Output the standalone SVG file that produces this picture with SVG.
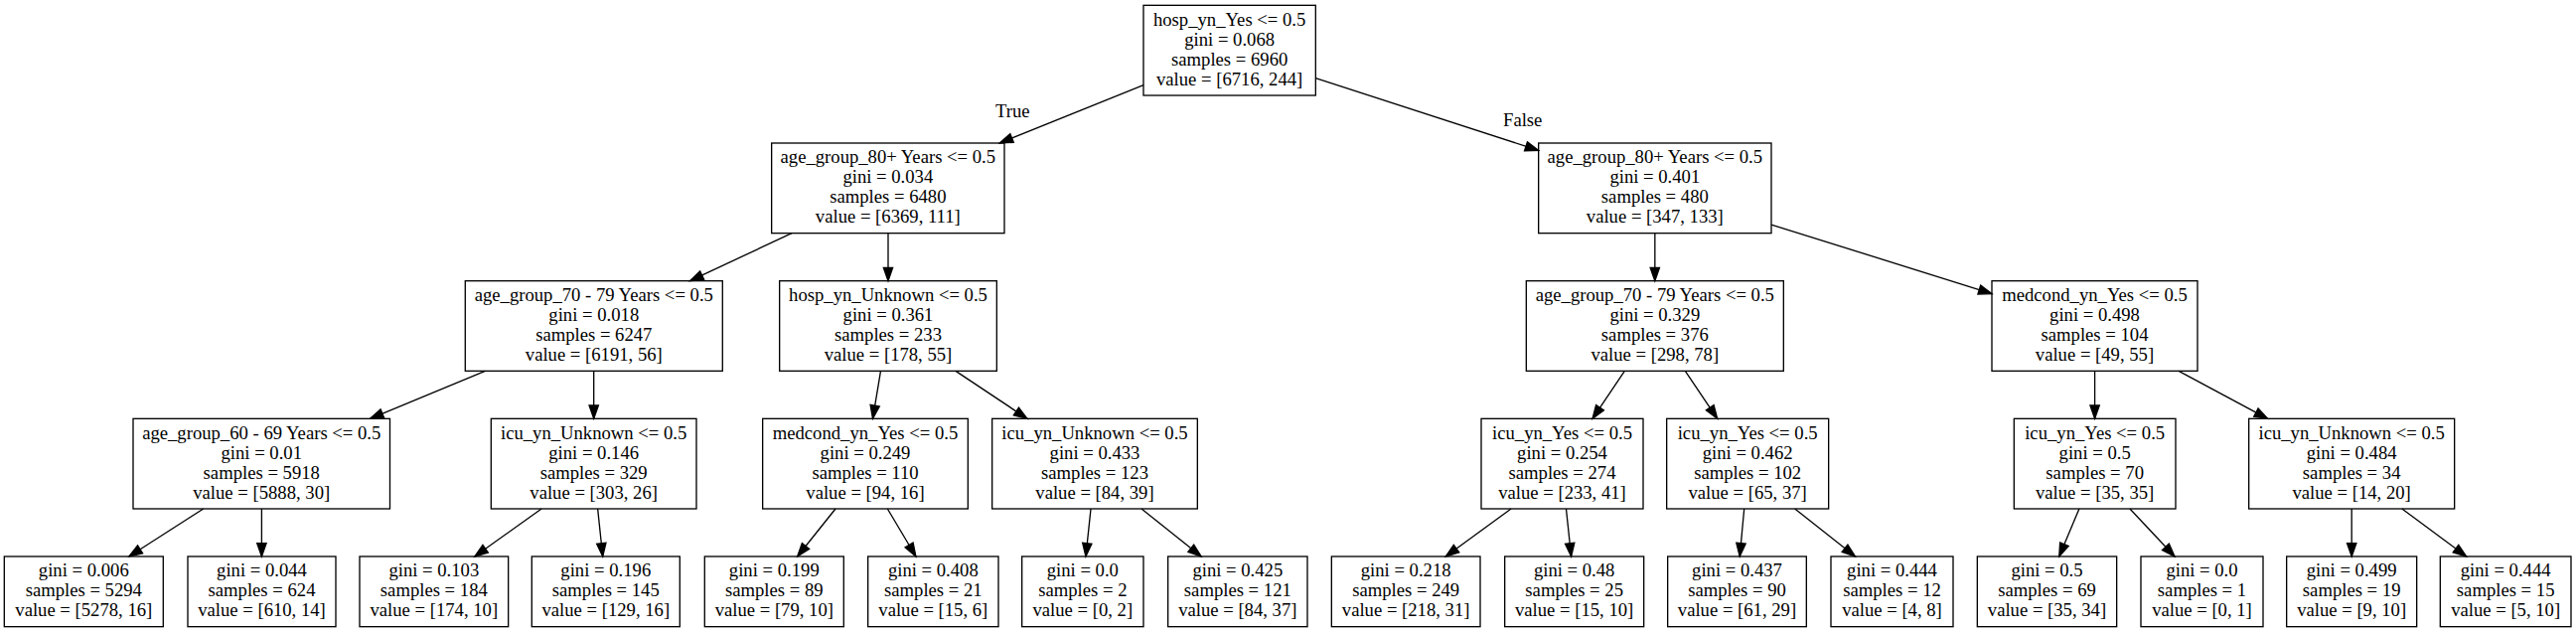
<svg xmlns="http://www.w3.org/2000/svg" width="2593" height="636" viewBox="0 0 2593 636">
<style>
.node rect{fill:none;stroke:#000;stroke-width:1.33}
text{font-family:"Liberation Serif","Times New Roman",serif;font-size:18.67px;text-anchor:middle;fill:#000}
.edges line{stroke:#000;stroke-width:1.33;marker-end:url(#arr)}
</style>
<defs>
<marker id="arr" markerUnits="userSpaceOnUse" markerWidth="16" markerHeight="12" viewBox="-1 -6 16 12" refX="13.33" refY="0" orient="auto" overflow="visible">
<path d="M0,-4.67 L13.33,0 L0,4.67 Z" fill="#000" stroke="#000" stroke-width="1.33"/>
</marker>
</defs>
<rect x="0" y="0" width="2593" height="636" fill="#fff"/>
<g class="edges" id="edges">
<line x1="1151" y1="85.63" x2="1006.23" y2="144"/>
<line x1="1324.33" y1="78.74" x2="1548.67" y2="151.38"/>
<line x1="797.05" y1="234.67" x2="694.58" y2="282.67"/>
<line x1="894" y1="234.67" x2="894" y2="282.67"/>
<line x1="488.41" y1="373.33" x2="372.56" y2="421.33"/>
<line x1="597.7" y1="373.33" x2="597.7" y2="421.33"/>
<line x1="204.7" y1="512" x2="129.88" y2="560"/>
<line x1="263.4" y1="512" x2="263.4" y2="560"/>
<line x1="545.09" y1="512" x2="477.81" y2="560"/>
<line x1="601.64" y1="512" x2="606.71" y2="560"/>
<line x1="886.48" y1="373.33" x2="878.52" y2="421.33"/>
<line x1="962" y1="373.33" x2="1034" y2="421.33"/>
<line x1="841.02" y1="512" x2="802.67" y2="560"/>
<line x1="893.34" y1="512" x2="921.92" y2="560"/>
<line x1="1098.02" y1="512" x2="1092.93" y2="560"/>
<line x1="1149.02" y1="512" x2="1209.18" y2="560"/>
<line x1="1665.83" y1="234.67" x2="1665.83" y2="282.67"/>
<line x1="1783" y1="226.03" x2="2005" y2="295.58"/>
<line x1="1635.32" y1="373.33" x2="1603.01" y2="421.33"/>
<line x1="1696.35" y1="373.33" x2="1728.68" y2="421.33"/>
<line x1="1521.07" y1="512" x2="1455.26" y2="560"/>
<line x1="1576.49" y1="512" x2="1581.59" y2="560"/>
<line x1="1755.7" y1="512" x2="1751.23" y2="560"/>
<line x1="1806.7" y1="512" x2="1867.48" y2="560"/>
<line x1="2108.6" y1="373.33" x2="2108.6" y2="421.33"/>
<line x1="2193.07" y1="373.33" x2="2282.63" y2="421.33"/>
<line x1="2092.92" y1="512" x2="2072.77" y2="560"/>
<line x1="2143.92" y1="512" x2="2189.03" y2="560"/>
<line x1="2367.2" y1="512" x2="2367.2" y2="560"/>
<line x1="2417.86" y1="512" x2="2482.68" y2="560"/>
<text x="1019.3" y="118">True</text>
<text x="1532.7" y="126.5">False</text>
</g>
<g class="node" id="node0"><rect x="1151" y="5.33" width="173.33" height="90.67"/>
<text x="1237.67" y="25.7">hosp_yn_Yes &lt;= 0.5</text><text x="1237.67" y="45.7">gini = 0.068</text><text x="1237.67" y="65.7">samples = 6960</text><text x="1237.67" y="85.7">value = [6716, 244]</text></g>
<g class="node" id="node1"><rect x="776.67" y="144" width="234.33" height="90.67"/>
<text x="893.83" y="164.4">age_group_80+ Years &lt;= 0.5</text><text x="893.83" y="184.4">gini = 0.034</text><text x="893.83" y="204.4">samples = 6480</text><text x="893.83" y="224.4">value = [6369, 111]</text></g>
<g class="node" id="node2"><rect x="468.3" y="282.67" width="259" height="90.67"/>
<text x="597.8" y="303.1">age_group_70 - 79 Years &lt;= 0.5</text><text x="597.8" y="323.1">gini = 0.018</text><text x="597.8" y="343.1">samples = 6247</text><text x="597.8" y="363.1">value = [6191, 56]</text></g>
<g class="node" id="node3"><rect x="134" y="421.33" width="258.5" height="90.67"/>
<text x="263.25" y="441.7">age_group_60 - 69 Years &lt;= 0.5</text><text x="263.25" y="461.7">gini = 0.01</text><text x="263.25" y="481.7">samples = 5918</text><text x="263.25" y="501.7">value = [5888, 30]</text></g>
<g class="node" id="node4"><rect x="4.3" y="560" width="160" height="70.67"/>
<text x="84.3" y="580.4">gini = 0.006</text><text x="84.3" y="600.4">samples = 5294</text><text x="84.3" y="620.4">value = [5278, 16]</text></g>
<g class="node" id="node5"><rect x="189" y="560" width="149" height="70.67"/>
<text x="263.5" y="580.4">gini = 0.044</text><text x="263.5" y="600.4">samples = 624</text><text x="263.5" y="620.4">value = [610, 14]</text></g>
<g class="node" id="node6"><rect x="494.33" y="421.33" width="206.67" height="90.67"/>
<text x="597.67" y="441.7">icu_yn_Unknown &lt;= 0.5</text><text x="597.67" y="461.7">gini = 0.146</text><text x="597.67" y="481.7">samples = 329</text><text x="597.67" y="501.7">value = [303, 26]</text></g>
<g class="node" id="node7"><rect x="362" y="560" width="149.67" height="70.67"/>
<text x="436.83" y="580.4">gini = 0.103</text><text x="436.83" y="600.4">samples = 184</text><text x="436.83" y="620.4">value = [174, 10]</text></g>
<g class="node" id="node8"><rect x="535.3" y="560" width="149" height="70.67"/>
<text x="609.8" y="580.4">gini = 0.196</text><text x="609.8" y="600.4">samples = 145</text><text x="609.8" y="620.4">value = [129, 16]</text></g>
<g class="node" id="node9"><rect x="784.67" y="282.67" width="218.67" height="90.67"/>
<text x="894" y="303.1">hosp_yn_Unknown &lt;= 0.5</text><text x="894" y="323.1">gini = 0.361</text><text x="894" y="343.1">samples = 233</text><text x="894" y="363.1">value = [178, 55]</text></g>
<g class="node" id="node10"><rect x="767.67" y="421.33" width="206.67" height="90.67"/>
<text x="871" y="441.7">medcond_yn_Yes &lt;= 0.5</text><text x="871" y="461.7">gini = 0.249</text><text x="871" y="481.7">samples = 110</text><text x="871" y="501.7">value = [94, 16]</text></g>
<g class="node" id="node11"><rect x="709.3" y="560" width="140" height="70.67"/>
<text x="779.3" y="580.4">gini = 0.199</text><text x="779.3" y="600.4">samples = 89</text><text x="779.3" y="620.4">value = [79, 10]</text></g>
<g class="node" id="node12"><rect x="873.67" y="560" width="131.33" height="70.67"/>
<text x="939.33" y="580.4">gini = 0.408</text><text x="939.33" y="600.4">samples = 21</text><text x="939.33" y="620.4">value = [15, 6]</text></g>
<g class="node" id="node13"><rect x="998.67" y="421.33" width="206.67" height="90.67"/>
<text x="1102" y="441.7">icu_yn_Unknown &lt;= 0.5</text><text x="1102" y="461.7">gini = 0.433</text><text x="1102" y="481.7">samples = 123</text><text x="1102" y="501.7">value = [84, 39]</text></g>
<g class="node" id="node14"><rect x="1028.67" y="560" width="122.33" height="70.67"/>
<text x="1089.83" y="580.4">gini = 0.0</text><text x="1089.83" y="600.4">samples = 2</text><text x="1089.83" y="620.4">value = [0, 2]</text></g>
<g class="node" id="node15"><rect x="1175.67" y="560" width="140.33" height="70.67"/>
<text x="1245.83" y="580.4">gini = 0.425</text><text x="1245.83" y="600.4">samples = 121</text><text x="1245.83" y="620.4">value = [84, 37]</text></g>
<g class="node" id="node16"><rect x="1548.67" y="144" width="234.33" height="90.67"/>
<text x="1665.83" y="164.4">age_group_80+ Years &lt;= 0.5</text><text x="1665.83" y="184.4">gini = 0.401</text><text x="1665.83" y="204.4">samples = 480</text><text x="1665.83" y="224.4">value = [347, 133]</text></g>
<g class="node" id="node17"><rect x="1536.33" y="282.67" width="259" height="90.67"/>
<text x="1665.83" y="303.1">age_group_70 - 79 Years &lt;= 0.5</text><text x="1665.83" y="323.1">gini = 0.329</text><text x="1665.83" y="343.1">samples = 376</text><text x="1665.83" y="363.1">value = [298, 78]</text></g>
<g class="node" id="node18"><rect x="1491" y="421.33" width="163" height="90.67"/>
<text x="1572.5" y="441.7">icu_yn_Yes &lt;= 0.5</text><text x="1572.5" y="461.7">gini = 0.254</text><text x="1572.5" y="481.7">samples = 274</text><text x="1572.5" y="501.7">value = [233, 41]</text></g>
<g class="node" id="node19"><rect x="1340.33" y="560" width="149.67" height="70.67"/>
<text x="1415.17" y="580.4">gini = 0.218</text><text x="1415.17" y="600.4">samples = 249</text><text x="1415.17" y="620.4">value = [218, 31]</text></g>
<g class="node" id="node20"><rect x="1514.67" y="560" width="140" height="70.67"/>
<text x="1584.67" y="580.4">gini = 0.48</text><text x="1584.67" y="600.4">samples = 25</text><text x="1584.67" y="620.4">value = [15, 10]</text></g>
<g class="node" id="node21"><rect x="1677.67" y="421.33" width="163" height="90.67"/>
<text x="1759.17" y="441.7">icu_yn_Yes &lt;= 0.5</text><text x="1759.17" y="461.7">gini = 0.462</text><text x="1759.17" y="481.7">samples = 102</text><text x="1759.17" y="501.7">value = [65, 37]</text></g>
<g class="node" id="node22"><rect x="1678.67" y="560" width="139.67" height="70.67"/>
<text x="1748.5" y="580.4">gini = 0.437</text><text x="1748.5" y="600.4">samples = 90</text><text x="1748.5" y="620.4">value = [61, 29]</text></g>
<g class="node" id="node23"><rect x="1843" y="560" width="123" height="70.67"/>
<text x="1904.5" y="580.4">gini = 0.444</text><text x="1904.5" y="600.4">samples = 12</text><text x="1904.5" y="620.4">value = [4, 8]</text></g>
<g class="node" id="node24"><rect x="2005" y="282.67" width="207" height="90.67"/>
<text x="2108.5" y="303.1">medcond_yn_Yes &lt;= 0.5</text><text x="2108.5" y="323.1">gini = 0.498</text><text x="2108.5" y="343.1">samples = 104</text><text x="2108.5" y="363.1">value = [49, 55]</text></g>
<g class="node" id="node25"><rect x="2027.33" y="421.33" width="162.67" height="90.67"/>
<text x="2108.67" y="441.7">icu_yn_Yes &lt;= 0.5</text><text x="2108.67" y="461.7">gini = 0.5</text><text x="2108.67" y="481.7">samples = 70</text><text x="2108.67" y="501.7">value = [35, 35]</text></g>
<g class="node" id="node26"><rect x="1990.33" y="560" width="140.33" height="70.67"/>
<text x="2060.5" y="580.4">gini = 0.5</text><text x="2060.5" y="600.4">samples = 69</text><text x="2060.5" y="620.4">value = [35, 34]</text></g>
<g class="node" id="node27"><rect x="2155" y="560" width="123" height="70.67"/>
<text x="2216.5" y="580.4">gini = 0.0</text><text x="2216.5" y="600.4">samples = 1</text><text x="2216.5" y="620.4">value = [0, 1]</text></g>
<g class="node" id="node28"><rect x="2263.67" y="421.33" width="207" height="90.67"/>
<text x="2367.17" y="441.7">icu_yn_Unknown &lt;= 0.5</text><text x="2367.17" y="461.7">gini = 0.484</text><text x="2367.17" y="481.7">samples = 34</text><text x="2367.17" y="501.7">value = [14, 20]</text></g>
<g class="node" id="node29"><rect x="2301.67" y="560" width="131" height="70.67"/>
<text x="2367.17" y="580.4">gini = 0.499</text><text x="2367.17" y="600.4">samples = 19</text><text x="2367.17" y="620.4">value = [9, 10]</text></g>
<g class="node" id="node30"><rect x="2456.33" y="560" width="131.67" height="70.67"/>
<text x="2522.17" y="580.4">gini = 0.444</text><text x="2522.17" y="600.4">samples = 15</text><text x="2522.17" y="620.4">value = [5, 10]</text></g>
</svg>
